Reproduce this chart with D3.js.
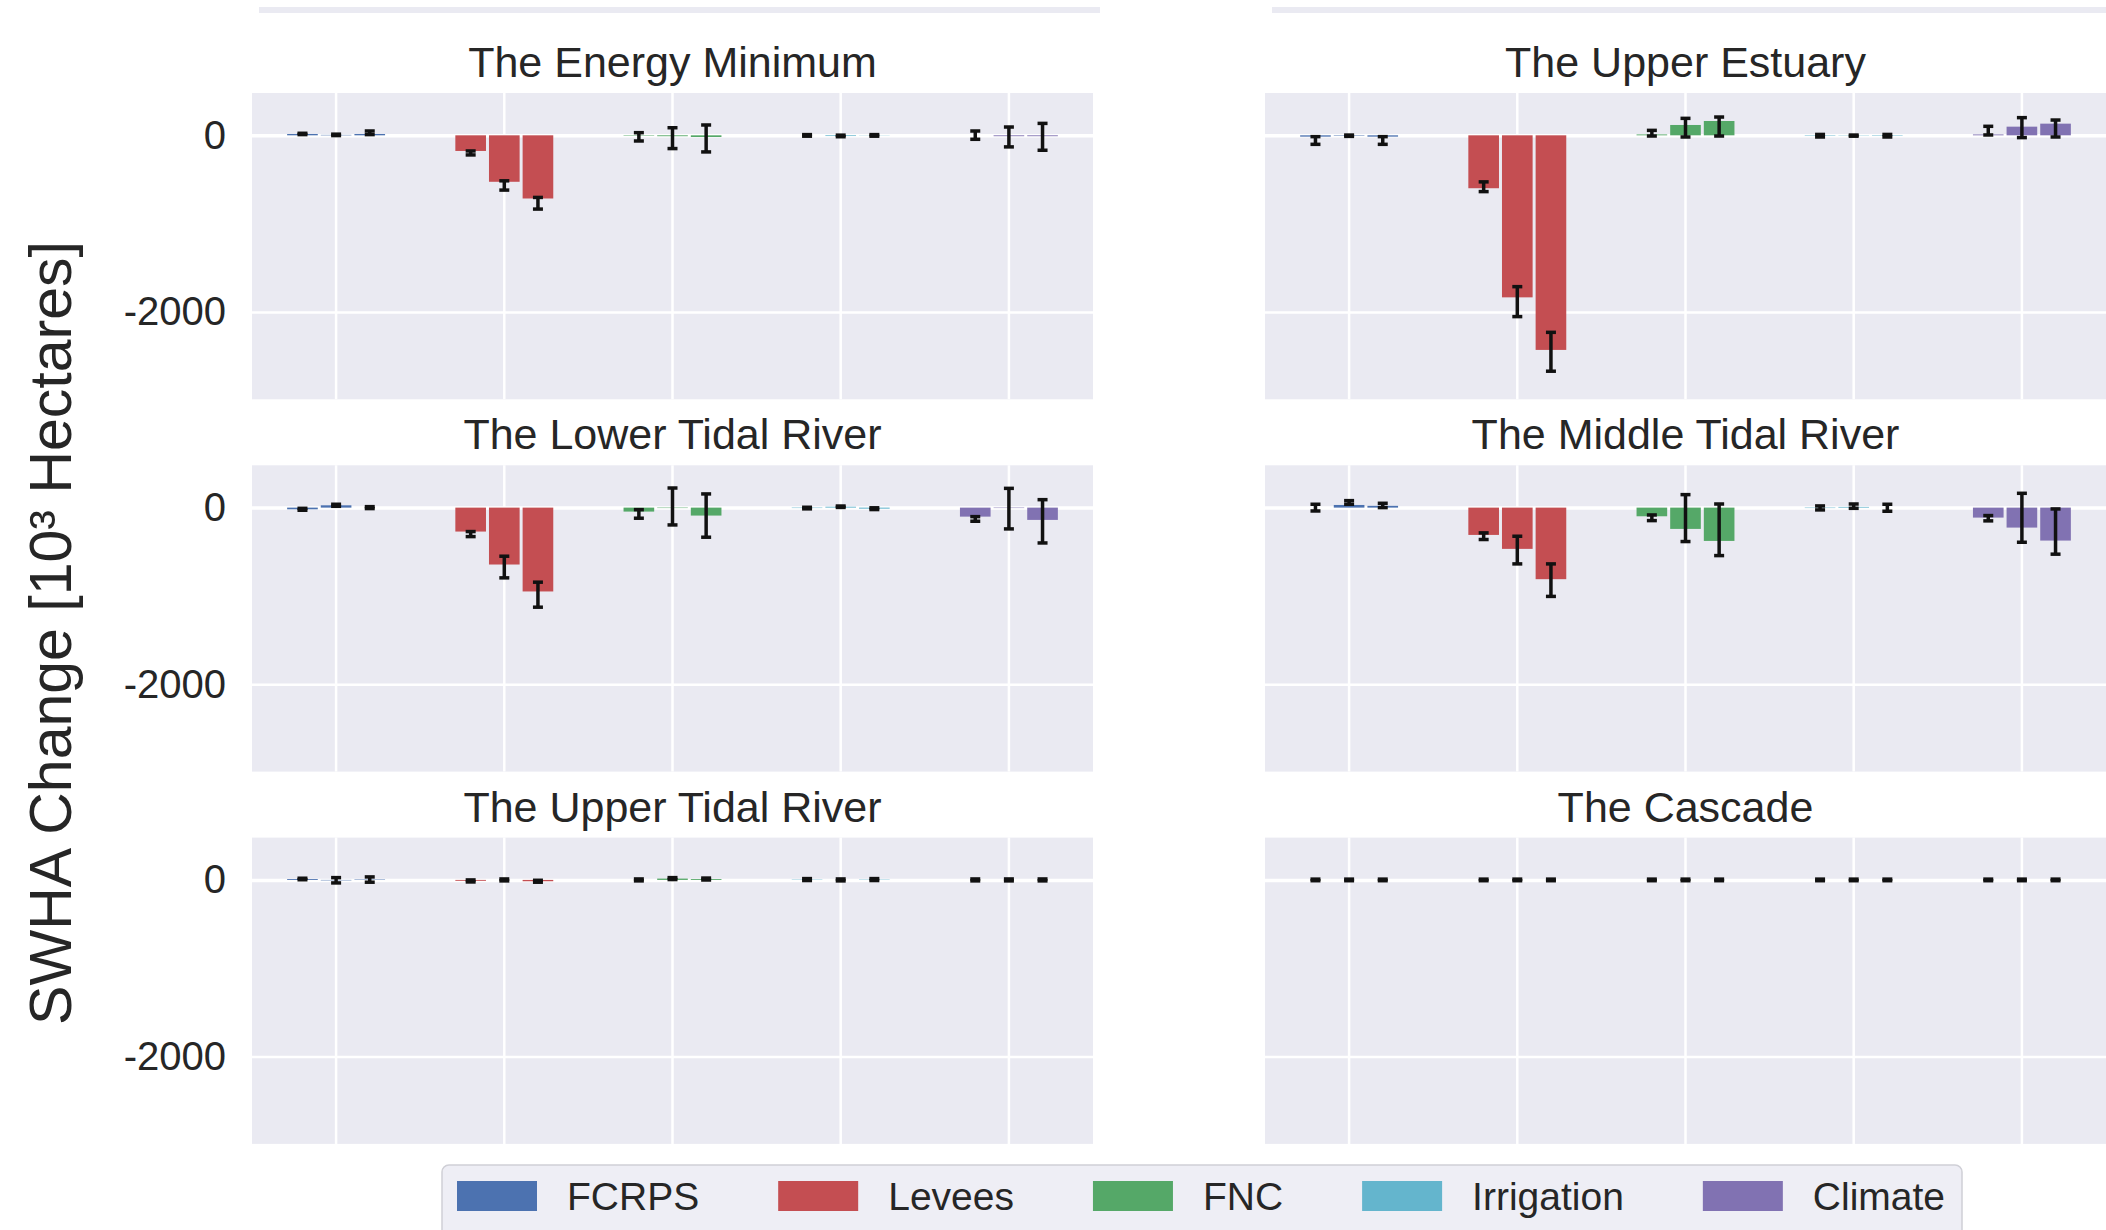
<!DOCTYPE html>
<html>
<head>
<meta charset="utf-8">
<script src="https://cdn.jsdelivr.net/npm/d3@7"></script>
<style>
  body { margin: 0; background: #fff; }
  svg { display: block; font-family: "Liberation Sans", Arial, sans-serif; }
</style>
</head>
<body>
<svg id="chart" width="2106" height="1230"></svg>
<script>
const regions = ['The Energy Minimum', 'The Upper Estuary', 'The Lower Tidal River',
  'The Middle Tidal River', 'The Upper Tidal River', 'The Cascade']
const drivers = ['FCRPS', 'Levees', 'FNC', 'Irrigation', 'Climate']
const scenarios = ['S1', 'S2', 'S3']
const driverColors = ['#4C72B0', '#C44E52', '#55A868', '#64B5CD', '#8172B2']
const yTicks = [0, -2000]
const yTickLabels = ['0', '-2000']

// values are driver-major: FCRPS s1..s3, Levees s1..s3, ...
const energyMinMean = [15, 5, 15, -177, -526, -715, -5, -10, -19, 0, -8, -2, 0, -10, -10]
const energyMinLow = [8, -3, 8, -222, -620, -835, -64, -150, -188, -10, -16, -10, -45, -131, -169]
const energyMinHigh = [23, 13, 49, -177, -515, -703, 30, 86, 117, 8, 2, 8, 49, 94, 135]

const upperEstMean = [-15, -5, -15, -599, -1834, -2429, 10, 117, 162, -5, -3, -5, 10, 98, 132]
const upperEstLow = [-102, -12, -102, -637, -2052, -2670, -8, -19, -8, -19, -10, -19, 4, -26, -19]
const upperEstHigh = [-15, 3, -15, -527, -1713, -2230, 56, 192, 207, 10, 3, 10, 102, 200, 173]

const lowerTidalMean = [-19, 26, 0, -271, -644, -949, -45, -5, -90, -5, 10, -12, -102, -5, -139]
const lowerTidalLow = [-30, 15, -11, -328, -795, -1127, -120, -196, -335, -14, 2, -22, -154, -241, -400]
const lowerTidalHigh = [-8, 38, 11, -271, -550, -844, -23, 222, 155, 4, 18, -2, -102, 218, 90]

const middleTidalMean = [0, 30, 20, -309, -467, -810, -98, -241, -377, -5, 8, 0, -113, -226, -373]
const middleTidalLow = [-38, 38, 0, -361, -637, -1005, -147, -384, -543, -26, -8, -41, -150, -392, -527]
const middleTidalHigh = [38, 79, 49, -286, -324, -637, -83, 147, 41, 19, 41, 38, -90, 162, -15]

const upperTidalMean = [10, -5, 5, -10, 0, -15, 0, 15, 10, 4, 0, 4, 0, 0, 0]
const upperTidalLow = [2, -34, -26, -23, -11, -26, -11, 4, -1, -7, -11, -7, -11, -11, -11]
const upperTidalHigh = [19, 26, 34, 0, 11, -4, 11, 26, 21, 15, 11, 15, 11, 11, 11]

const cascadeMean = [0, 0, 0, 0, 0, 0, 0, 0, 0, 0, 0, 0, 0, 0, 0]
const cascadeLow = [-9, -9, -9, -9, -9, -9, -9, -9, -9, -9, -9, -9, -9, -9, -9]
const cascadeHigh = [9, 9, 9, 9, 9, 9, 9, 9, 9, 9, 9, 9, 9, 9, 9]

const regionSeries = [
  [energyMinMean, energyMinLow, energyMinHigh],
  [upperEstMean, upperEstLow, upperEstHigh],
  [lowerTidalMean, lowerTidalLow, lowerTidalHigh],
  [middleTidalMean, middleTidalLow, middleTidalHigh],
  [upperTidalMean, upperTidalLow, upperTidalHigh],
  [cascadeMean, cascadeLow, cascadeHigh]
]

const svg = d3.select('#chart')
const colX = [252, 1265]
const rowY = [93, 465.3, 837.6]
const pw = 841, ph = 306.3
const panelBg = '#EAEAF2'
const textColor = '#262626'

// leftover strips from the figure above
svg.append('rect').attr('x', 259).attr('y', 7).attr('width', 841).attr('height', 6).attr('fill', panelBg)
svg.append('rect').attr('x', 1272).attr('y', 7).attr('width', 834).attr('height', 6).attr('fill', panelBg)

const x0 = d3.scaleBand().domain(drivers).range([0, pw]).padding(0)
const bw = x0.bandwidth()
const x1 = d3.scaleBand().domain(scenarios).range([0.2 * bw, 0.8 * bw]).padding(0)
const y = d3.scaleLinear().domain([-2988, 479]).range([ph, 0])
const color = d3.scaleOrdinal().domain(drivers).range(driverColors)

regions.forEach((name, i) => {
  const col = i % 2, row = Math.floor(i / 2)
  const [mean, low, high] = regionSeries[i]
  const rows = []
  drivers.forEach((d, di) => scenarios.forEach((s, si) => {
    const k = di * 3 + si
    rows.push({driver: d, scen: s, v: mean[k], lo: low[k], hi: high[k]})
  }))

  const g = svg.append('g')
    .attr('transform', 'translate(' + colX[col] + ',' + rowY[row] + ')')

  g.append('rect').attr('width', pw).attr('height', ph).attr('fill', panelBg)

  // vertical grid at category centres
  const gx = g.append('g')
    .attr('transform', 'translate(0,' + ph + ')')
    .call(d3.axisBottom(x0).tickSize(-ph).tickFormat(''))
  gx.select('.domain').remove()
  gx.selectAll('line').attr('stroke', '#fff').attr('stroke-width', 2.5)

  const gy = g.append('g')
    .call(d3.axisLeft(y).tickValues(yTicks).tickSize(-pw).tickPadding(26)
      .tickFormat((t, j) => col === 0 ? yTickLabels[j] : ''))
  gy.select('.domain').remove()
  gy.selectAll('line').attr('stroke', '#fff').attr('stroke-width', t => t === 0 ? 3.5 : 2.5)
  gy.selectAll('text').attr('fill', textColor).style('font-size', '40px')
    .style('font-family', '"Liberation Sans", Arial, sans-serif')

  g.append('text')
    .attr('x', pw / 2).attr('y', -16)
    .attr('text-anchor', 'middle')
    .attr('fill', textColor)
    .style('font-size', '43px')
    .text(name)

  g.selectAll('.bar')
    .data(rows)
    .enter()
    .append('rect')
    .attr('class', 'bar')
    .attr('x', d => x0(d.driver) + x1(d.scen) + 1.5)
    .attr('y', d => y(Math.max(0, d.v)))
    .attr('width', x1.bandwidth() - 3)
    .attr('height', d => Math.abs(y(d.v) - y(0)))
    .attr('fill', d => color(d.driver))

  const eb = g.selectAll('.err')
    .data(rows)
    .enter()
    .append('g')
    .attr('class', 'err')
    .attr('transform', d => 'translate(' + (x0(d.driver) + x1(d.scen) + x1.bandwidth() / 2) + ',0)')
    .attr('stroke', '#111')
    .attr('stroke-width', 3.5)
  eb.append('line').attr('y1', d => y(d.lo)).attr('y2', d => y(d.hi))
  eb.append('line').attr('x1', -5).attr('x2', 5).attr('y1', d => y(d.lo)).attr('y2', d => y(d.lo))
  eb.append('line').attr('x1', -5).attr('x2', 5).attr('y1', d => y(d.hi)).attr('y2', d => y(d.hi))
})

// y label
svg.append('text')
  .attr('transform', 'translate(71,633) rotate(-90)')
  .attr('text-anchor', 'middle')
  .attr('fill', textColor)
  .style('font-size', '59px')
  .text('SWHA Change [10³ Hectares]')

// legend
const leg = svg.append('g')
leg.append('rect')
  .attr('x', 442).attr('y', 1165).attr('width', 1520).attr('height', 110)
  .attr('rx', 7)
  .attr('fill', '#EEEEF5').attr('stroke', '#cfcfd6').attr('stroke-width', 1.5)

let lx = 457
drivers.forEach((d, i) => {
  leg.append('rect')
    .attr('x', lx).attr('y', 1181).attr('width', 80).attr('height', 30)
    .attr('fill', driverColors[i])
  const t = leg.append('text')
    .attr('x', lx + 110).attr('y', 1210)
    .attr('fill', textColor)
    .style('font-size', '39px')
    .text(d)
  lx += 110 + t.node().getComputedTextLength() + 79
})
</script>
</body>
</html>
